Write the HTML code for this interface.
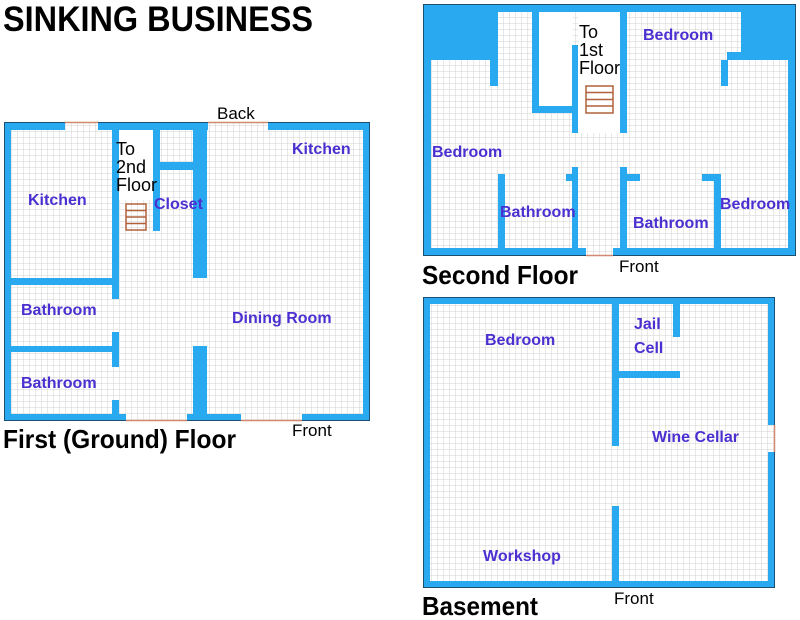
<!DOCTYPE html>
<html><head><meta charset="utf-8"><style>
html,body{margin:0;padding:0;background:#fff;width:800px;height:620px;overflow:hidden}
svg{display:block}
.l{font-family:"Liberation Sans",sans-serif;font-weight:bold;font-size:16px;fill:#4b2fd0}
.k{font-family:"Liberation Sans",sans-serif;font-size:17px;fill:#000}
.s{font-family:"Liberation Sans",sans-serif;font-size:18px;fill:#000}
.h{font-family:"Liberation Sans",sans-serif;font-weight:bold;fill:#000}
</style></head><body>
<svg width="800" height="620" viewBox="0 0 800 620" xmlns="http://www.w3.org/2000/svg">
<defs>
<pattern id="g" width="6" height="6" patternUnits="userSpaceOnUse">
<rect width="6" height="6" fill="#fff"/>
<path d="M6 0V6M0 6H6" stroke="#d2d2d2" stroke-width="1" fill="none"/>
</pattern>
</defs>
<text class="h" x="3" y="31" font-size="35" textLength="310" lengthAdjust="spacingAndGlyphs">SINKING BUSINESS</text>

<!-- FIRST FLOOR -->
<rect x="4" y="122" width="366" height="299" fill="url(#g)"/>
<rect x="119" y="130" width="34" height="70" fill="#fff"/>
<g fill="#29aaf0">
<rect x="4" y="122" width="61" height="8"/><rect x="98" y="122" width="110" height="8"/><rect x="268" y="122" width="102" height="8"/>
<rect x="4" y="122" width="7" height="299"/><rect x="363" y="122" width="7" height="299"/>
<rect x="4" y="414" width="122" height="7"/><rect x="187" y="414" width="54" height="7"/><rect x="302" y="414" width="68" height="7"/>
<rect x="112" y="122" width="7" height="177"/><rect x="112" y="332" width="7" height="35"/><rect x="112" y="400" width="7" height="21"/>
<rect x="4" y="278" width="115" height="7"/><rect x="4" y="346" width="115" height="6"/>
<rect x="153" y="130" width="7" height="101"/>
<rect x="160" y="162" width="33" height="8"/>
<rect x="193" y="122" width="14" height="156"/><rect x="193" y="346" width="14" height="75"/>
</g>
<rect x="4.5" y="122.5" width="365" height="298" fill="none" stroke="#1d4f72" stroke-width="1"/>
<path d="M65 122.5H98M208 122.5H268M126 420.5H187M241 420.5H302" stroke="#d08a70" stroke-width="1.5"/>
<g fill="none" stroke="#b0603a" stroke-width="1.5"><rect x="126" y="204" width="20" height="26"/><path d="M126 210.5H146M126 217H146M126 223.5H146"/></g>
<text class="k" x="217" y="119">Back</text>
<text class="k" x="292" y="436">Front</text>
<text class="h" x="3" y="448" font-size="26" textLength="233" lengthAdjust="spacingAndGlyphs">First (Ground) Floor</text>
<text class="s" x="116" y="155">To</text><text class="s" x="116" y="173">2nd</text><text class="s" x="116" y="191">Floor</text>
<text class="l" x="28" y="205">Kitchen</text>
<text class="l" x="292" y="154">Kitchen</text>
<text class="l" x="154" y="209">Closet</text>
<text class="l" x="21" y="315">Bathroom</text>
<text class="l" x="21" y="388">Bathroom</text>
<text class="l" x="232" y="323">Dining Room</text>

<!-- SECOND FLOOR -->
<rect x="423" y="4" width="373" height="252" fill="url(#g)"/>
<rect x="539" y="12" width="34" height="94" fill="#fff"/>
<rect x="578" y="12" width="42" height="121" fill="#fff"/>
<g fill="#29aaf0">
<rect x="423" y="4" width="373" height="8"/>
<rect x="423" y="4" width="75" height="56"/><rect x="490" y="60" width="8" height="26"/>
<rect x="423" y="4" width="8" height="252"/><rect x="788" y="4" width="8" height="252"/>
<rect x="741" y="4" width="55" height="56"/><rect x="727" y="52" width="14" height="8"/><rect x="721" y="60" width="7" height="26"/>
<rect x="532" y="12" width="7" height="101"/><rect x="532" y="106" width="46" height="7"/>
<rect x="572" y="45" width="6" height="88"/><rect x="620" y="12" width="7" height="121"/>
<rect x="423" y="248" width="163" height="8"/><rect x="613" y="248" width="183" height="8"/>
<rect x="498" y="174" width="7" height="82"/>
<rect x="572" y="167" width="6" height="89"/><rect x="566" y="174" width="6" height="7"/>
<rect x="620" y="167" width="7" height="89"/><rect x="627" y="174" width="13" height="7"/>
<rect x="714" y="174" width="7" height="82"/><rect x="702" y="174" width="12" height="7"/>
</g>
<rect x="423.5" y="4.5" width="372" height="251" fill="none" stroke="#1d4f72" stroke-width="1"/>
<path d="M586 255.5H613" stroke="#d08a70" stroke-width="1.5"/>
<g fill="none" stroke="#b0603a" stroke-width="1.5"><rect x="586" y="86" width="27" height="27"/><path d="M586 92.5H613M586 99.5H613M586 106H613"/></g>
<text class="s" x="579" y="38">To</text><text class="s" x="579" y="56">1st</text><text class="s" x="579" y="74">Floor</text>
<text class="l" x="643" y="40">Bedroom</text>
<text class="l" x="432" y="157">Bedroom</text>
<text class="l" x="500" y="217">Bathroom</text>
<text class="l" x="633" y="228">Bathroom</text>
<text class="l" x="720" y="209">Bedroom</text>
<text class="k" x="619" y="272">Front</text>
<text class="h" x="422" y="284" font-size="26" textLength="156" lengthAdjust="spacingAndGlyphs">Second Floor</text>

<!-- BASEMENT -->
<rect x="423" y="297" width="352" height="291" fill="url(#g)"/>
<g fill="#29aaf0">
<rect x="423" y="297" width="352" height="7"/><rect x="423" y="297" width="7" height="291"/>
<rect x="423" y="581" width="352" height="7"/>
<rect x="768" y="297" width="7" height="128"/><rect x="768" y="452" width="7" height="136"/>
<rect x="612" y="304" width="7" height="142"/><rect x="612" y="506" width="7" height="75"/>
<rect x="619" y="371" width="61" height="7"/><rect x="673" y="304" width="7" height="33"/>
</g>
<rect x="423.5" y="297.5" width="351" height="290" fill="none" stroke="#1d4f72" stroke-width="1"/>
<path d="M774.5 425V452" stroke="#d08a70" stroke-width="1.5"/>
<text class="l" x="485" y="345">Bedroom</text>
<text class="l" x="634" y="329">Jail</text>
<text class="l" x="634" y="353">Cell</text>
<text class="l" x="652" y="442">Wine Cellar</text>
<text class="l" x="483" y="561">Workshop</text>
<text class="k" x="614" y="604">Front</text>
<text class="h" x="422" y="615" font-size="26" textLength="116" lengthAdjust="spacingAndGlyphs">Basement</text>
</svg>
</body></html>
